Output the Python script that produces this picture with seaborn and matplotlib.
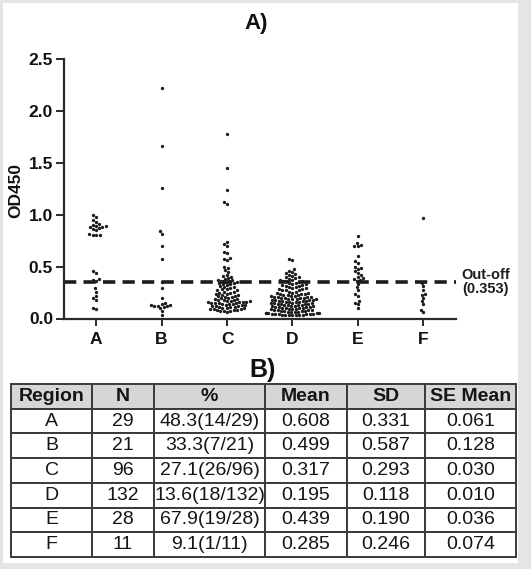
import matplotlib
matplotlib.use("Agg")
import matplotlib.pyplot as plt
from matplotlib.patches import Rectangle
import seaborn as sns
import pandas as pd

# ---------------- data ----------------
regions = ["A", "B", "C", "D", "E", "F"]

od_A = [1.00, 0.98, 0.95, 0.93, 0.91, 0.90, 0.89, 0.89, 0.88, 0.88, 0.87, 0.86, 0.85,
        0.81, 0.80, 0.80, 0.80, 0.46, 0.44, 0.38, 0.37, 0.36, 0.29, 0.26, 0.22, 0.20,
        0.18, 0.10, 0.09]
od_B = [2.22, 1.66, 1.26, 0.84, 0.81, 0.70, 0.57, 0.35, 0.29, 0.20, 0.15, 0.14, 0.13,
        0.13, 0.12, 0.12, 0.12, 0.11, 0.10, 0.07, 0.03]
od_C = [1.78, 1.45, 1.24, 1.12, 1.10, 0.74, 0.72, 0.70, 0.64, 0.63, 0.58, 0.57, 0.56,
        0.50, 0.49, 0.47, 0.45, 0.42, 0.41, 0.40, 0.39, 0.38, 0.37, 0.37, 0.36, 0.36,
        0.35, 0.35, 0.34, 0.34, 0.33, 0.33, 0.32, 0.31, 0.30, 0.30,
        0.29, 0.28, 0.28, 0.27, 0.27, 0.26, 0.26, 0.25, 0.25, 0.24,
        0.24, 0.23, 0.23, 0.22, 0.22, 0.21, 0.21, 0.20, 0.20, 0.19,
        0.19, 0.18, 0.18, 0.18, 0.17, 0.17, 0.17, 0.16, 0.16, 0.16,
        0.16, 0.15, 0.15, 0.15, 0.15, 0.14, 0.14, 0.14, 0.13, 0.13,
        0.13, 0.12, 0.12, 0.12, 0.11, 0.11, 0.11, 0.10, 0.10, 0.10,
        0.09, 0.09, 0.09, 0.08, 0.08, 0.08, 0.07, 0.07, 0.07, 0.06]
od_D = [0.57, 0.56, 0.48, 0.46, 0.45, 0.44, 0.43, 0.42, 0.41, 0.40, 0.40, 0.39, 0.38,
        0.37, 0.37, 0.36, 0.36, 0.36,
        0.35, 0.34, 0.34, 0.33, 0.33, 0.32, 0.32, 0.31, 0.31, 0.30,
        0.30, 0.29, 0.29, 0.28, 0.28, 0.27, 0.27, 0.27, 0.26, 0.26,
        0.25, 0.25, 0.25, 0.24, 0.24, 0.24, 0.23, 0.23, 0.23, 0.22,
        0.22, 0.22, 0.21, 0.21, 0.21, 0.21, 0.20, 0.20, 0.20, 0.20,
        0.19, 0.19, 0.19, 0.19, 0.18, 0.18, 0.18, 0.18, 0.17, 0.17,
        0.17, 0.17, 0.16, 0.16, 0.16, 0.16, 0.15, 0.15, 0.15, 0.15,
        0.14, 0.14, 0.14, 0.14, 0.13, 0.13, 0.13, 0.13, 0.12, 0.12,
        0.12, 0.12, 0.11, 0.11, 0.11, 0.11, 0.10, 0.10, 0.10, 0.10,
        0.09, 0.09, 0.09, 0.09, 0.08, 0.08, 0.08, 0.08, 0.07, 0.07,
        0.07, 0.07, 0.06, 0.06, 0.06, 0.06, 0.05, 0.05, 0.05, 0.05,
        0.05, 0.04, 0.04, 0.04, 0.04, 0.04, 0.04, 0.03, 0.03, 0.03,
        0.03, 0.03, 0.03, 0.03]
od_E = [0.79, 0.73, 0.71, 0.70, 0.70, 0.60, 0.55, 0.53, 0.50, 0.49, 0.48, 0.46, 0.44,
        0.42, 0.40, 0.39, 0.38, 0.37, 0.36, 0.33, 0.30, 0.27, 0.24, 0.22, 0.17, 0.15,
        0.14, 0.10]
od_F = [0.97, 0.34, 0.31, 0.27, 0.24, 0.23, 0.20, 0.17, 0.14, 0.08, 0.06]

cutoff = 0.353
cutoff_label = "Out-off\n(0.353)"
y_ticks = [0.0, 0.5, 1.0, 1.5, 2.0, 2.5]

# table
tbl_header = ["Region", "N", "%", "Mean", "SD", "SE Mean"]
tbl_n = ["29", "21", "96", "132", "28", "11"]
tbl_pct = ["48.3(14/29)", "33.3(7/21)", "27.1(26/96)", "13.6(18/132)", "67.9(19/28)", "9.1(1/11)"]
tbl_mean = ["0.608", "0.499", "0.317", "0.195", "0.439", "0.285"]
tbl_sd = ["0.331", "0.587", "0.293", "0.118", "0.190", "0.246"]
tbl_se = ["0.061", "0.128", "0.030", "0.010", "0.036", "0.074"]

# ---------------- style ----------------
sns.set_style("ticks")
plt.rcParams["font.family"] = ["Liberation Sans", "DejaVu Sans"]

W, H = 531, 569
fig = plt.figure(figsize=(W / 100, H / 100), dpi=100)
fig.set_facecolor("#e5e5e5")
fig.patches.append(Rectangle((3 / W, 1 - 563 / H), 515 / W, 560 / H,
                             transform=fig.transFigure, facecolor="white",
                             edgecolor="none", zorder=-5))

ax = fig.add_axes([63.5 / W, 1 - 318.5 / H, 392.5 / W, 259.5 / H])
ax.set_facecolor("none")

groups = [od_A, od_B, od_C, od_D, od_E, od_F]
df = pd.DataFrame({
    "Region": [r for r, g in zip(regions, groups) for _ in g],
    "OD450": [v for g in groups for v in g],
})

import warnings
warnings.filterwarnings("ignore")
sns.swarmplot(data=df, x="Region", y="OD450", order=regions, color="#1c1c1c",
              size=2.4, linewidth=0, ax=ax, zorder=3)

ax.axhline(cutoff, color="#1c1c1c", linewidth=2.6, linestyle=(0, (3.4, 2.0)), zorder=2)
ax.text(1.076, cutoff, cutoff_label, transform=ax.get_yaxis_transform(),
        ha="center", va="center", fontsize=10.5, fontweight="bold",
        linespacing=0.95, color="#1c1c1c")

ax.set_xlim(-0.5, 5.5)
ax.set_ylim(0, 2.5)
ax.set_yticks(y_ticks)
ax.set_yticklabels([f"{t:.1f}" for t in y_ticks])
ax.set_xlabel("")
ax.set_ylabel("")
sns.despine(ax=ax)
for s in ("left", "bottom"):
    ax.spines[s].set_linewidth(1.6)
    ax.spines[s].set_color("#2a2a2a")
ax.tick_params(axis="y", length=6, width=1.4, color="#2a2a2a", pad=1.5,
               labelsize=12.5, labelcolor="#111111")
ax.tick_params(axis="x", length=5, width=1.4, color="#2a2a2a", pad=5,
               labelsize=12.5, labelcolor="#111111")
for lbl in ax.get_xticklabels() + ax.get_yticklabels():
    lbl.set_fontweight("bold")

fig.text(16 / W, 1 - 191 / H, "OD450", rotation=90, ha="center", va="center",
         fontsize=12.5, fontweight="bold", color="#111111")
fig.text(256.5 / W, 1 - 24 / H, "A)", ha="center", va="center",
         fontsize=16, fontweight="bold", color="#111111")
fig.text(263 / W, 1 - 370 / H, "B)", ha="center", va="center",
         fontsize=18, fontweight="bold", color="#111111")

# ---------------- table ----------------
axt = fig.add_axes([11 / W, 1 - 557 / H, 505 / W, 173 / H])
axt.axis("off")
rows = [list(r) for r in zip(regions, tbl_n, tbl_pct, tbl_mean, tbl_sd, tbl_se)]
col_px = [81, 62, 111, 82, 78, 91]
tbl = axt.table(cellText=rows, colLabels=tbl_header,
                colWidths=[c / sum(col_px) for c in col_px],
                cellLoc="center", bbox=[0, 0, 1, 1])
tbl.auto_set_font_size(False)
for (r, c), cell in tbl.get_celld().items():
    cell.set_edgecolor("#3a3a3a")
    cell.set_linewidth(1.4)
    cell.PAD = 0.02
    if r == 0:
        cell.set_facecolor("#d6d6d6")
        cell.get_text().set_fontweight("bold")
        cell.get_text().set_fontsize(14)
    else:
        cell.set_facecolor("white")
        cell.get_text().set_fontsize(14)
    cell.get_text().set_color("#151515")

fig.savefig("out.png", dpi=100, facecolor=fig.get_facecolor())
